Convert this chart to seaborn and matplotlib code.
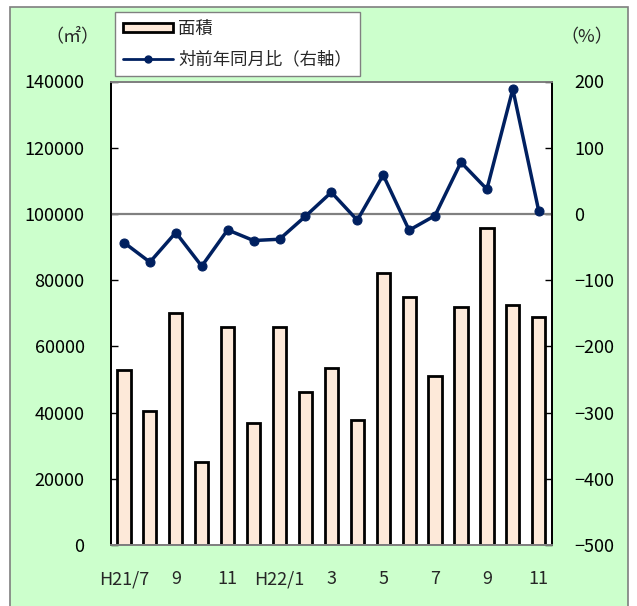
import matplotlib
matplotlib.use("Agg")
import matplotlib.pyplot as plt
import seaborn as sns
import pandas as pd
import numpy as np
from matplotlib.patches import Rectangle, Patch
from matplotlib.lines import Line2D

# Monthly data, H21/7 .. H22/11
months = ["H21/7", "8", "9", "10", "11", "12", "H22/1", "2", "3", "4",
          "5", "6", "7", "8", "9", "10", "11"]
area = [52800, 40500, 70100, 25200, 65900, 37000, 65800, 46100, 53600,
        37700, 82300, 75000, 51100, 71800, 95700, 72500, 69000]
yoy = [-43.2, -72.8, -28.1, -78.9, -24.1, -40.2, -38.2, -3.5, 32.7,
       -9.5, 58.8, -24.6, -2.5, 78.0, 37.3, 188.5, 4.5]
shown_ticks = ["H21/7", "", "9", "", "11", "", "H22/1", "", "3", "",
               "5", "", "7", "", "9", "", "11"]

sns.set_style("white")
plt.rcParams["font.family"] = ["Noto Sans CJK JP", "DejaVu Sans"]
plt.rcParams["font.size"] = 13

bar_color = "#FDE9D9"
line_color = "#002060"
bg_green = "#CCFFCC"

fig = plt.figure(figsize=(6.37, 6.06), dpi=100)
fig.patch.set_facecolor("white")
fig.patches.append(Rectangle((10 / 637, -0.01), 618 / 637, 1 - 7 / 606 + 0.01,
                             transform=fig.transFigure, facecolor=bg_green,
                             edgecolor="#7f7f7f", linewidth=1.2, zorder=-10))

ax = fig.add_axes([111 / 637, 1 - 545 / 606, 440.7 / 637, (545 - 81.5) / 606])
ax.set_facecolor("white")

df = pd.DataFrame({"key": [f"m{i:02d}" for i in range(len(months))],
                   "area": area})
sns.barplot(data=df, x="key", y="area", ax=ax, color=bar_color,
            saturation=1, edgecolor="black", linewidth=2, width=0.51)
ax.set_ylim(0, 140000)
ax.set_xlim(-0.5, len(months) - 0.5)
ax.set_yticks(np.arange(0, 140001, 20000))
ax.set_xticks(range(len(months)))
ax.set_xticklabels(shown_ticks)
ax.set_xlabel("")
ax.set_ylabel("")
ax.tick_params(axis="y", direction="in", length=5, width=1, pad=19,
               colors="black", left=True, labelsize=13)
ax.tick_params(axis="x", length=0, pad=18, labelsize=13)

ax2 = ax.twinx()
ax2.axhline(0, color="#808080", linewidth=1.6, zorder=1)
sns.lineplot(x=np.arange(len(months)), y=yoy, ax=ax2, color=line_color,
             marker="o", markersize=6.5, markeredgecolor=line_color,
             linewidth=2.5, zorder=3)
ax2.set_ylim(-500, 200)
ax2.set_yticks(np.arange(-500, 201, 100))
ax2.tick_params(axis="y", direction="in", length=5, width=1, pad=16,
                colors="black", right=True, labelsize=13)
ax2.set_ylabel("")

for a in (ax, ax2):
    a.spines["left"].set_color("black")
    a.spines["right"].set_color("black")
    a.spines["top"].set_color("#808080")
    a.spines["bottom"].set_color("#808080")
    for s in a.spines.values():
        s.set_linewidth(1.3)

fig.text(72 / 637, 1 - 36 / 606, "（㎡）", ha="center", va="center",
         fontsize=13)
fig.text(587 / 637, 1 - 37 / 606, "（%）", ha="center", va="center",
         fontsize=13)

handles = [Patch(facecolor=bar_color, edgecolor="black", linewidth=2),
           Line2D([], [], color=line_color, linewidth=2, marker="o",
                  markersize=5)]
leg = fig.legend(handles, ["面積", "対前年同月比（右軸）"],
                 loc="upper left", bbox_to_anchor=(115 / 637, 1 - 12 / 606),
                 frameon=True, fancybox=False, edgecolor="#808080",
                 framealpha=1, fontsize=12.5, handlelength=2.9,
                 handleheight=0.45, handletextpad=0.3, labelspacing=0.7,
                 borderpad=0.45, borderaxespad=0)
leg.get_frame().set_linewidth(1)

fig.savefig("out.png", dpi=100, facecolor=fig.get_facecolor())
